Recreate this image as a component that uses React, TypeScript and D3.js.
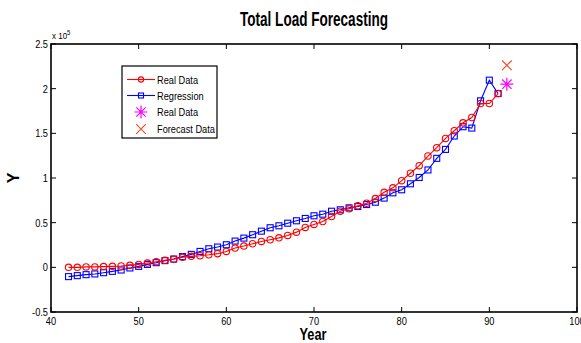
import React, { useEffect, useRef } from 'react';
import * as d3 from 'd3';

// years of the data points
const years = d3.range(42, 92);

// Real data (units of 1e5)
const realData = [
  0.0, 0.0, 0.005, 0.005, 0.008, 0.011, 0.015, 0.022, 0.033, 0.048,
  0.063, 0.078, 0.09, 0.112, 0.123, 0.13, 0.14, 0.153, 0.178, 0.216,
  0.238, 0.264, 0.29, 0.309, 0.33, 0.357, 0.394, 0.447, 0.48, 0.513,
  0.569, 0.628, 0.655, 0.688, 0.718, 0.77, 0.84, 0.89, 0.97, 1.053,
  1.138, 1.246, 1.339, 1.443, 1.529, 1.618, 1.677, 1.834, 1.834, 1.945,
];

// Regression fit (units of 1e5)
const regression = [
  -0.104, -0.093, -0.082, -0.074, -0.06, -0.045, -0.03, -0.007, 0.011, 0.033,
  0.052, 0.075, 0.093, 0.12, 0.145, 0.178, 0.208, 0.227, 0.253, 0.294,
  0.327, 0.365, 0.405, 0.443, 0.465, 0.494, 0.521, 0.547, 0.577, 0.595,
  0.628, 0.644, 0.666, 0.681, 0.703, 0.729, 0.775, 0.834, 0.868, 0.935,
  1.006, 1.09, 1.22, 1.32, 1.47, 1.574, 1.559, 1.864, 2.095, 1.945,
];

// single points at year 92
const realPoint = { year: 92, value: 2.05 };
const forecastPoint = { year: 92, value: 2.262 };

const xTicks = [40, 50, 60, 70, 80, 90, 100];
const yTicks = [-0.5, 0, 0.5, 1, 1.5, 2, 2.5];

const legendItems = ['Real Data', 'Regression', 'Real Data', 'Forecast Data'];

const FONT = "'Liberation Sans', Arial, sans-serif";
const RED = '#ff0000';
const BLUE = '#0000ff';
const MAGENTA = '#ff00ff';
const ORANGE = '#e8562a';
const NARROW = 0.84; // horizontal squeeze, the original uses a condensed face

const W = 581;
const H = 343;

const drawStar = (g: any, cx: number, cy: number, r: number) => {
  const d = r * 0.72;
  g.append('path')
    .attr(
      'd',
      `M${cx - r},${cy}H${cx + r}M${cx},${cy - r}V${cy + r}` +
        `M${cx - d},${cy - d}L${cx + d},${cy + d}M${cx - d},${cy + d}L${cx + d},${cy - d}`
    )
    .attr('stroke', MAGENTA)
    .attr('stroke-width', 1.2)
    .attr('fill', 'none');
};

const drawCross = (g: any, cx: number, cy: number, r: number) => {
  g.append('path')
    .attr('d', `M${cx - r},${cy - r}L${cx + r},${cy + r}M${cx - r},${cy + r}L${cx + r},${cy - r}`)
    .attr('stroke', ORANGE)
    .attr('stroke-width', 1.2)
    .attr('fill', 'none');
};

// text squeezed horizontally around its anchor point
const narrowText = (g: any, px: number, py: number, txt: string, size: number, anchor = 'start') =>
  g.append('text')
    .attr('transform', `translate(${px},${py}) scale(${NARROW},1)`)
    .attr('text-anchor', anchor)
    .attr('font-family', FONT)
    .attr('font-size', size)
    .text(txt);

const Chart: React.FC = () => {
  const svgRef = useRef<SVGSVGElement>(null);

  useEffect(() => {
    if (!svgRef.current) return;
    const svg = d3.select(svgRef.current);
    svg.selectAll('*').remove();

    const margin = { top: 44, right: 4, bottom: 31, left: 51 };
    const x = d3.scaleLinear().domain([40, 100]).range([margin.left, W - margin.right]);
    const y = d3.scaleLinear().domain([-0.5, 2.5]).range([H - margin.bottom, margin.top]);

    const [x0, x1] = x.range();
    const [y0, y1] = y.range();

    // Title
    svg.append('text')
      .attr('x', 314)
      .attr('y', 26)
      .attr('text-anchor', 'middle')
      .attr('font-family', FONT)
      .attr('font-size', 20)
      .attr('font-weight', 'bold')
      .attr('textLength', 148)
      .attr('lengthAdjust', 'spacingAndGlyphs')
      .text('Total Load Forecasting');

    // Ticks (inward, all four sides)
    const tickLen = 5;
    const ticks = svg.append('g').attr('stroke', '#000').attr('stroke-width', 1);
    xTicks.forEach((t) => {
      ticks.append('line').attr('x1', x(t)).attr('x2', x(t)).attr('y1', y0).attr('y2', y0 - tickLen);
      ticks.append('line').attr('x1', x(t)).attr('x2', x(t)).attr('y1', y1).attr('y2', y1 + tickLen);
    });
    yTicks.forEach((t) => {
      ticks.append('line').attr('x1', x0).attr('x2', x0 + tickLen).attr('y1', y(t)).attr('y2', y(t));
      ticks.append('line').attr('x1', x1).attr('x2', x1 - tickLen).attr('y1', y(t)).attr('y2', y(t));
    });

    // Tick labels
    xTicks.forEach((t) => narrowText(svg, x(t), y0 + 13, String(t), 11, 'middle'));
    yTicks.forEach((t) => narrowText(svg, x0 - 3, y(t) + 4, String(t), 11, 'end'));

    // exponent
    const exp = svg.append('text')
      .attr('transform', `translate(${x0 + 1},39) scale(${NARROW},1)`)
      .attr('font-family', FONT)
      .attr('font-size', 9.5);
    exp.append('tspan').text('x 10');
    exp.append('tspan').attr('dy', -4).attr('font-size', 7).text('5');

    // Axis titles
    svg.append('text')
      .attr('x', 313)
      .attr('y', 340)
      .attr('text-anchor', 'middle')
      .attr('font-family', FONT)
      .attr('font-size', 17)
      .attr('font-weight', 'bold')
      .attr('textLength', 27)
      .attr('lengthAdjust', 'spacingAndGlyphs')
      .text('Year');

    svg.append('text')
      .attr('transform', `translate(19, ${(y0 + y1) / 2}) rotate(-90)`)
      .attr('text-anchor', 'middle')
      .attr('font-family', FONT)
      .attr('font-size', 16)
      .attr('font-weight', 'bold')
      .text('Y');

    const plot = svg.append('g');

    const line = d3
      .line<number>()
      .x((_, i) => x(years[i]))
      .y((d) => y(d));

    // Regression
    plot.append('path')
      .datum(regression)
      .attr('d', line)
      .attr('fill', 'none')
      .attr('stroke', BLUE)
      .attr('stroke-width', 1.1);
    plot.selectAll('rect.reg')
      .data(regression)
      .join('rect')
      .attr('class', 'reg')
      .attr('x', (_, i) => x(years[i]) - 3)
      .attr('y', (d) => y(d) - 3)
      .attr('width', 6)
      .attr('height', 6)
      .attr('fill', 'none')
      .attr('stroke', BLUE)
      .attr('stroke-width', 1.1);

    // Real data
    plot.append('path')
      .datum(realData)
      .attr('d', line)
      .attr('fill', 'none')
      .attr('stroke', RED)
      .attr('stroke-width', 1.1);
    plot.selectAll('circle.real')
      .data(realData)
      .join('circle')
      .attr('class', 'real')
      .attr('cx', (_, i) => x(years[i]))
      .attr('cy', (d) => y(d))
      .attr('r', 3.2)
      .attr('fill', 'none')
      .attr('stroke', RED)
      .attr('stroke-width', 1.1);

    drawStar(plot, x(realPoint.year), y(realPoint.value), 6.5);
    drawCross(plot, x(forecastPoint.year), y(forecastPoint.value), 4.8);

    // Axes box
    svg.append('rect')
      .attr('x', x0)
      .attr('y', y1)
      .attr('width', x1 - x0)
      .attr('height', y0 - y1)
      .attr('fill', 'none')
      .attr('stroke', '#000')
      .attr('stroke-width', 1.6);

    // Legend
    const lg = svg.append('g');
    lg.append('rect')
      .attr('x', 122)
      .attr('y', 66)
      .attr('width', 95)
      .attr('height', 72)
      .attr('fill', '#fff')
      .attr('stroke', '#000')
      .attr('stroke-width', 1.2);
    const rowY = [79.5, 95.5, 112, 129];
    legendItems.forEach((label, i) => {
      const cy = rowY[i];
      if (i === 0) {
        lg.append('line').attr('x1', 127).attr('x2', 155).attr('y1', cy).attr('y2', cy)
          .attr('stroke', RED).attr('stroke-width', 1.1);
        lg.append('circle').attr('cx', 141).attr('cy', cy).attr('r', 2.6)
          .attr('fill', 'none').attr('stroke', RED).attr('stroke-width', 1.1);
      } else if (i === 1) {
        lg.append('line').attr('x1', 127).attr('x2', 155).attr('y1', cy).attr('y2', cy)
          .attr('stroke', BLUE).attr('stroke-width', 1.1);
        lg.append('rect').attr('x', 138.5).attr('y', cy - 2.5).attr('width', 5).attr('height', 5)
          .attr('fill', 'none').attr('stroke', BLUE).attr('stroke-width', 1.1);
      } else if (i === 2) {
        drawStar(lg, 141, cy, 6.5);
      } else {
        drawCross(lg, 141, cy, 4.8);
      }
      narrowText(lg, 157, cy + 4, label, 11);
    });
  }, []);

  return <svg ref={svgRef} width={W} height={H} style={{ display: 'block', background: '#fff' }} />;
};

export default function App() {
  return (
    <div style={{ position: 'absolute', left: 0, top: 0, width: W, height: H, background: '#fff' }}>
      <Chart />
    </div>
  );
}
